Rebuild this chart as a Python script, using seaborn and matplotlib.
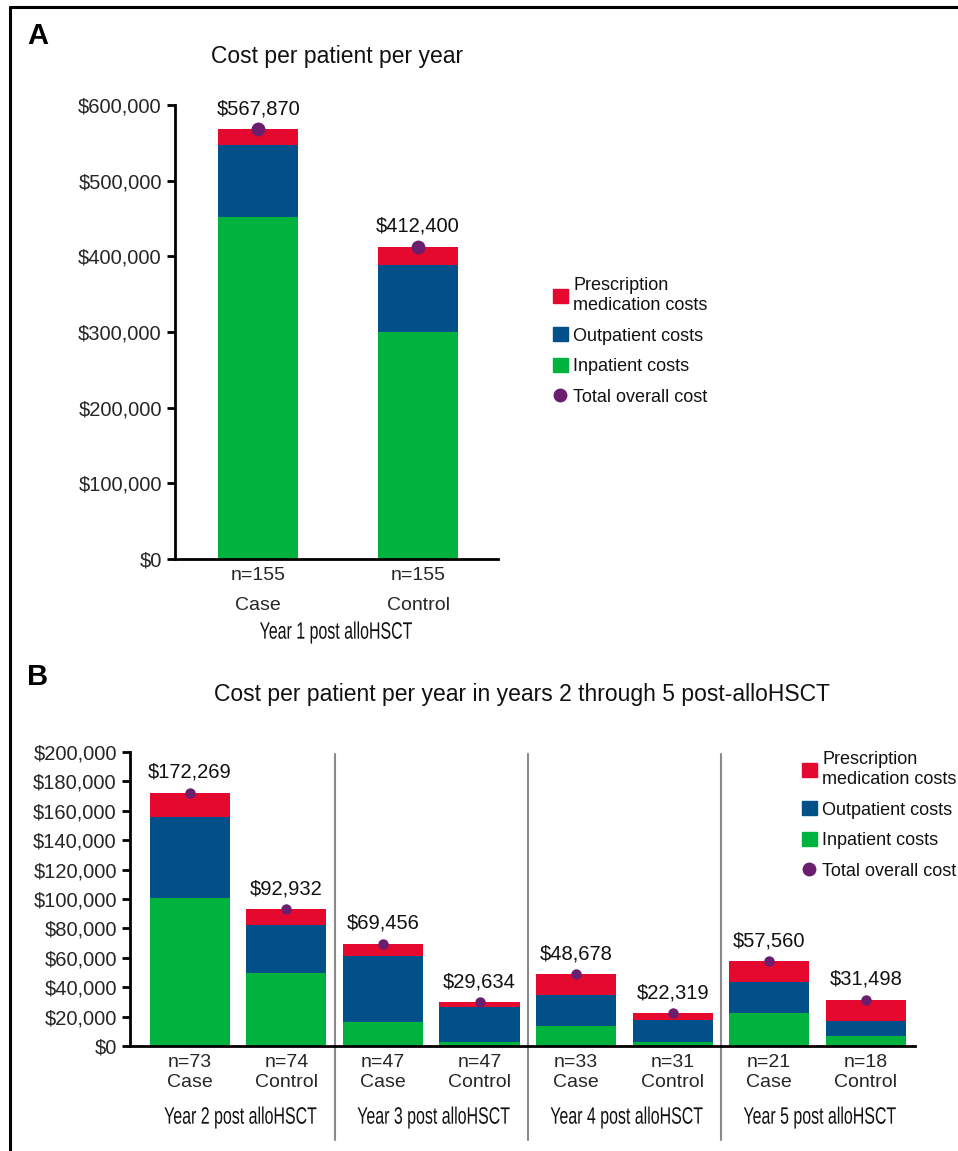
import numpy as np
import pandas as pd
import seaborn as sns
import matplotlib.pyplot as plt
from matplotlib.patches import Patch
from matplotlib.lines import Line2D
from matplotlib.ticker import FuncFormatter
from matplotlib.transforms import blended_transform_factory, Affine2D
from matplotlib.patheffects import AbstractPathEffect

# Panel A data: year 1 post alloHSCT
a_labels = ['n=155\nCase', 'n=155\nControl']
a_inpatient = [452000, 300000]
a_outpatient = [95000, 89000]
a_total = [567870, 412400]
a_group = 'Year 1 post alloHSCT'

# Panel B data: years 2-5 post alloHSCT
b_labels = ['n=73\nCase', 'n=74\nControl', 'n=47\nCase', 'n=47\nControl',
            'n=33\nCase', 'n=31\nControl', 'n=21\nCase', 'n=18\nControl']
b_inpatient = [100700, 50000, 16500, 3000, 13900, 2800, 22700, 6600]
b_outpatient = [54800, 32000, 44800, 23400, 20500, 14600, 21100, 10300]
b_total = [172269, 92932, 69456, 29634, 48678, 22319, 57560, 31498]
b_groups = ['Year 2 post alloHSCT', 'Year 3 post alloHSCT',
            'Year 4 post alloHSCT', 'Year 5 post alloHSCT']

RED = '#e5092f'
BLUE = '#01508a'
GREEN = '#00b33f'
PURPLE = '#6a1e6d'


class Condense(AbstractPathEffect):
    """Draw text narrower and taller (condensed look) around its own centre."""

    def __init__(self, sx, sy):
        super().__init__()
        self.sx, self.sy = sx, sy

    def draw_path(self, renderer, gc, tpath, affine, rgbFace=None):
        bb = tpath.get_extents(affine)
        cx = (bb.x0 + bb.x1) / 2
        cy = (bb.y0 + bb.y1) / 2
        squeeze = (Affine2D().translate(-cx, -cy).scale(self.sx, self.sy)
                   .translate(cx, cy))
        renderer.draw_path(gc, tpath, affine + squeeze, rgbFace)


sns.set_style('ticks')
plt.rcParams['font.family'] = ['Liberation Sans', 'DejaVu Sans']
plt.rcParams['text.color'] = '#111111'

fig = plt.figure(figsize=(9.58, 11.51), dpi=100)
ax_a = fig.add_axes([0.1827, 0.5143, 0.3372, 0.3945])
ax_b = fig.add_axes([0.1357, 0.0912, 0.8194, 0.2555])


def draw_stack(ax, labels, inp, outp, total, width, dot):
    df = pd.DataFrame({'label': labels, 'inp': inp,
                       'inp_out': np.add(inp, outp), 'total': total})
    # layered bars: full height in red, then blue, then green on top
    for col, c in [('total', RED), ('inp_out', BLUE), ('inp', GREEN)]:
        sns.barplot(data=df, x='label', y=col, order=labels, color=c,
                    saturation=1, width=width, errorbar=None, linewidth=0, ax=ax)
    sns.stripplot(data=df, x='label', y='total', order=labels, color=PURPLE,
                  jitter=False, size=dot, linewidth=0, ax=ax, zorder=5)
    for i, v in enumerate(total):
        ax.annotate(f'${v:,}', (i, v), xytext=(0, 8), textcoords='offset points',
                    ha='center', va='bottom', fontsize=14.5)
    ax.set_xlabel('')
    ax.set_ylabel('')
    sns.despine(ax=ax)
    for s in ['left', 'bottom']:
        ax.spines[s].set_linewidth(2)
        ax.spines[s].set_color('black')
    ax.yaxis.set_major_formatter(FuncFormatter(lambda v, p: f'${v:,.0f}'))
    ax.tick_params(axis='y', labelsize=14.5, width=2, length=6, color='black')
    ax.tick_params(axis='x', labelsize=14, length=0, pad=6)


def make_legend(anchor):
    handles = [Patch(color=RED), Patch(color=BLUE), Patch(color=GREEN),
               Line2D([], [], marker='o', ls='none', color=PURPLE, markersize=9)]
    names = ['Prescription\nmedication costs', 'Outpatient costs',
             'Inpatient costs', 'Total overall cost']
    fig.legend(handles, names, loc='upper left', bbox_to_anchor=anchor,
               frameon=False, fontsize=13, handlelength=0.8, handleheight=0.8,
               handletextpad=0.3, labelspacing=0.75, borderaxespad=0)


def group_label(ax, x, y, text, trans):
    ax.text(x, y, text, transform=trans, ha='center', va='center',
            fontsize=14, path_effects=[Condense(0.82, 1.22)])


# Panel A
draw_stack(ax_a, a_labels, a_inpatient, a_outpatient, a_total, 0.5, 10)
ax_a.set_ylim(0, 600000)
ax_a.set_yticks(np.arange(0, 600001, 100000))
ax_a.set_xlim(-0.52, 1.5)
for t in ax_a.get_xticklabels():
    t.set_linespacing(1.95)
group_label(ax_a, 0.5, -0.163, a_group, ax_a.transAxes)
make_legend((546 / 958, 1 - 270 / 1151))

# Panel B
draw_stack(ax_b, b_labels, b_inpatient, b_outpatient, b_total, 0.83, 7.5)
ax_b.set_ylim(0, 200000)
ax_b.set_yticks(np.arange(0, 200001, 20000))
ax_b.set_xlim(-0.62, 7.51)
for x in [1.5, 3.5, 5.5]:
    ax_b.axvline(x, ymin=-0.32, ymax=0.993, color='#8a8a8a', lw=1.5, clip_on=False)
trans = blended_transform_factory(ax_b.transData, ax_b.transAxes)
for i, g in enumerate(b_groups):
    group_label(ax_b, 2 * i + 0.53, -0.245, g, trans)
make_legend((795 / 958, 1 - 744 / 1151))

# titles and panel letters
fig.text(337 / 958, 1 - 56 / 1151, 'Cost per patient per year', ha='center',
         va='center', fontsize=16.5)
fig.text(522 / 958, 1 - 695 / 1151,
         'Cost per patient per year in years 2 through 5 post-alloHSCT',
         ha='center', va='center', fontsize=16.5)
fig.text(27 / 958, 1 - 36 / 1151, 'A', ha='left', va='center', fontsize=21,
         fontweight='bold', color='black')
fig.text(27 / 958, 1 - 677 / 1151, 'B', ha='left', va='center', fontsize=21,
         fontweight='bold', color='black')

# outer frame (left and top edges)
fig.add_artist(Line2D([10 / 958, 10 / 958], [0, 1 - 7 / 1151],
                      transform=fig.transFigure, color='black', lw=2.2))
fig.add_artist(Line2D([10 / 958, 1], [1 - 7 / 1151, 1 - 7 / 1151],
                      transform=fig.transFigure, color='black', lw=2.2))

fig.savefig('out.png', dpi=100)
